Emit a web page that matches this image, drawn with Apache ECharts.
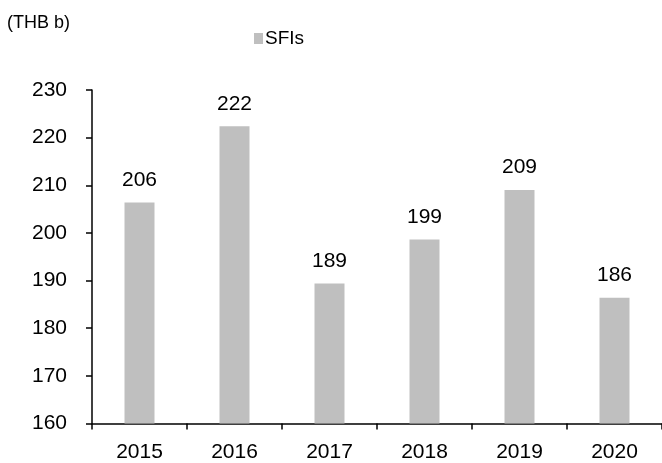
<!DOCTYPE html>
<html>
<head>
<meta charset="utf-8">
<script src="https://cdn.jsdelivr.net/npm/echarts@6/dist/echarts.min.js"></script>
<style>html,body{margin:0;padding:0;background:#fff}#c{width:662px;height:463px}</style>
</head>
<body>
<div id="c"></div>
<script>
var categories = ['2015', '2016', '2017', '2018', '2019', '2020'];
var sfiValues = [206.4, 222.4, 189.4, 198.6, 209.0, 186.4];
var yTicks = [160, 170, 180, 190, 200, 210, 220, 230];
var seriesName = 'SFIs';
var unitLabel = '(THB b)';

var font = '"Liberation Sans", Arial, sans-serif';
var chart = echarts.init(document.getElementById('c'));
chart.setOption({
  animation: false,
  backgroundColor: '#fff',
  textStyle: { fontFamily: font },
  title: {
    text: unitLabel, left: 2, top: 9,
    textStyle: { fontFamily: font, fontSize: 18, fontWeight: 'normal', color: '#000' }
  },
  legend: {
    data: [seriesName], top: 24, left: 249,
    itemWidth: 9, itemHeight: 11, itemGap: 4,
    icon: 'rect',
    textStyle: { fontFamily: font, fontSize: 19, color: '#000', padding: [0, 0, 0, -3] }
  },
  grid: { left: 92, right: 0, top: 90, bottom: 39.5, containLabel: false },
  xAxis: {
    type: 'category', data: categories,
    axisLine: { lineStyle: { color: '#000', width: 1.5 } },
    axisTick: { show: true, length: 6, inside: false, alignWithLabel: false, lineStyle: { color: '#000', width: 1.5 } },
    axisLabel: { color: '#000', fontSize: 21, fontFamily: font, margin: 18 },
    splitLine: { show: false }
  },
  yAxis: {
    type: 'value', min: yTicks[0], max: yTicks[yTicks.length - 1], interval: 10,
    axisLine: { show: true, lineStyle: { color: '#000', width: 1.5 } },
    axisTick: { show: true, length: 6, lineStyle: { color: '#000', width: 1.5 } },
    axisLabel: { color: '#000', fontSize: 21, fontFamily: font, margin: 25 },
    splitLine: { show: false }
  },
  series: [{
    name: seriesName, type: 'bar', data: sfiValues, barWidth: 30,
    itemStyle: { color: '#bfbfbf' },
    label: {
      show: true, position: 'top', distance: 12, color: '#000', fontSize: 21, fontFamily: font,
      formatter: function (p) { return Math.round(p.value); }
    }
  }]
});
</script>
</body>
</html>
